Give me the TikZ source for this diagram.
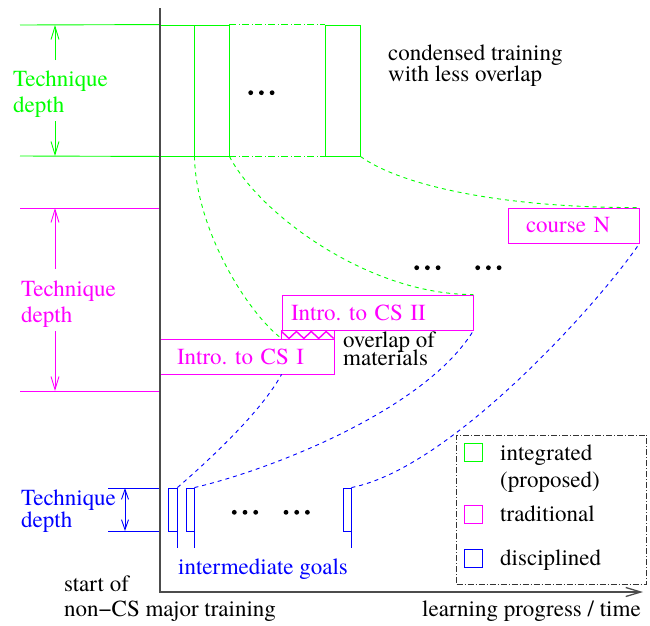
\documentclass[tikz,border=0pt]{standalone}
\usepackage{fontspec}
\setmainfont{TeX Gyre Termes}
\usetikzlibrary{arrows.meta}
\definecolor{figgreen}{RGB}{0,255,0}
\definecolor{figmag}{RGB}{255,0,255}
\definecolor{figblue}{RGB}{0,0,255}
\tikzset{
  thinline/.style={line width=0.9pt},
  gline/.style={thinline, draw=figgreen},
  mline/.style={thinline, draw=figmag},
  bline/.style={thinline, draw=figblue},
  dashfour/.style={dash pattern=on 4pt off 4pt},
  dashdotline/.style={dash pattern=on 7pt off 2.5pt on 1pt off 2.5pt},
  lbl/.style={font=\fontsize{23}{26}\selectfont, inner sep=0pt, anchor=base west},
  gbox/.style={gline, minimum height=131pt, inner sep=0pt},
  sbox/.style={bline, minimum height=43pt, inner sep=0pt},
  course/.style={mline, text=figmag, font=\fontsize{23}{26}\selectfont,
    minimum height=35pt, inner ysep=0pt, align=left},
  dimtip/.style={-{Straight Barb[length=13pt,width=8pt]}},
  axis/.style={draw=black!70, line width=1.3pt},
  legsq/.style={thinline, minimum size=18pt, inner sep=0pt},
  threedots/.pic={\foreach \i in {0,1,2} \fill (\i*10.7,0) circle (2.4pt);}
}
\begin{document}
\begin{tikzpicture}[x=1pt,y=-1pt]
\useasboundingbox (0,0) rectangle (650,625);

% ---------- integrated (green) ----------
\node[gbox, minimum width=34pt] (g1) at (177,90.5) {};
\node[gbox, minimum width=35pt] (g2) at (211.5,90.5) {};
\node[gbox, minimum width=35pt] (gN) at (342.5,90.5) {};
\coordinate (gt) at (20,25);
\coordinate (gb) at (20,156);
\draw[gline] (gt) -- (g1.north west);
\draw[gline] (gb) -- (g1.south west);
\draw[gline, dashdotline] (g2.north east) -- (gN.north west);
\draw[gline, dashdotline] (g2.south east) -- (gN.south west);
\coordinate (ga1) at (55,60);
\coordinate (ga2) at (55,121);
\draw[gline, dimtip] (ga1) -- (ga1 |- gt);
\draw[gline, dimtip] (ga2) -- (ga2 |- gb);
\node[lbl, text=figgreen] (gtx1) at (13,86) {Technique};
\node[lbl, text=figgreen] (gtx2) at (13,112) {depth};
\pic at (250.7,92.7) {threedots};
\node[lbl] (cond1) at (388,60) {condensed training};
\node[lbl] (cond2) at (388,81) {with less overlap};

% ---------- traditional (magenta) ----------
\coordinate (mt) at (20,208);
\coordinate (mtr) at (160,208);
\coordinate (mb) at (20,391);
\coordinate (mbr) at (160,391);
\draw[mline] (mt) -- (mtr);
\draw[mline] (mb) -- (mbr);
\coordinate (ma1) at (55,269);
\coordinate (ma2) at (55,331);
\draw[mline, dimtip] (ma1) -- (ma1 |- mt);
\draw[mline, dimtip] (ma2) -- (ma2 |- mb);
\node[lbl, text=figmag] (mtx1) at (21,296) {Technique};
\node[lbl, text=figmag] (mtx2) at (21,322) {depth};

\node[course, text width=140pt, inner xsep=17pt] (c1) at (247,356.5) {Intro.\ to CS I};
\node[course, text width=173pt, inner xsep=9pt] (c2) at (377.5,312.5) {Intro.\ to CS II};
\node[course, text width=95pt, inner xsep=18pt] (cN) at (573.5,225.5) {course N};

% overlap of the two introductory courses
\draw[mline] (c2.south west) -- (c2.south west |- c1.north);
\draw[mline] (c1.north east) -- (c1.north east |- c2.south);
\draw[mline, line width=1.4pt, line join=miter] (c2.south west) ++(0,1)
  -- ++(7.43,7) -- ++(7.43,-7) -- ++(7.43,7) -- ++(7.43,-7)
  -- ++(7.43,7) -- ++(7.43,-7) -- ++(7.43,7);
\node[lbl, text depth=0pt] (ovl1) at (343,347) {overlap of};
\node[lbl] (ovl2) at (343,365) {materials};
\pic at (416.7,267.7) {threedots};
\pic at (477.7,267.7) {threedots};

% green projections onto the traditional courses
\coordinate (z1) at (c2.south west |- c1.north);
\draw[gline, dashfour] (g1.south east) .. controls (196,230) and (247,312) .. (z1);
\draw[gline, dashfour] (g2.south east) .. controls (260,215) and (370,295) .. (c2.north east);
\draw[gline, dashfour] (gN.south east) .. controls (400,185) and (500,208) .. (cN.north east);

% ---------- disciplined (blue) ----------
\coordinate (bt) at (108,488);
\coordinate (btr) at (160,488);
\coordinate (bb) at (108,531);
\coordinate (bbr) at (160,531);
\draw[bline] (bt) -- (btr);
\draw[bline] (bb) -- (bbr);
\coordinate (ba) at (125,488);
\draw[bline, {Straight Barb[length=10pt,width=7pt]}-{Straight Barb[length=10pt,width=7pt]}] (ba) -- (ba |- bb);
\node[lbl, text=figblue] (btx1) at (21,505) {Technique};
\node[lbl, text=figblue] (btx2) at (21,527) {depth};

\node[sbox, minimum width=9pt] (s1) at (172.5,509.5) {};
\node[sbox, minimum width=8pt] (s2) at (190,509.5) {};
\node[sbox, minimum width=8pt] (s3) at (347,509.5) {};
\coordinate (gy) at (0,548);
\draw[bline] (s1.south east) -- (s1.south east |- gy);
\draw[bline] (s2.south east) -- (s2.south east |- gy);
\draw[bline] (s3.south east) -- (s3.south east |- gy);
\pic at (234.3,512.3) {threedots};
\pic at (286,512.3) {threedots};
\node[lbl, text=figblue] (igoal) at (178,574) {intermediate goals};

\coordinate (z2) at (c2.south west |- c1.south);
\draw[bline, dashfour] (s1.north east) .. controls (215,455) and (262,410) .. (z2);
\draw[bline, dashfour] (s2.north east) .. controls (270,470) and (425,410) .. (c2.south east);
\draw[bline, dashfour] (s3.north east) .. controls (451,468) and (599,303) .. (cN.south east);

% ---------- legend ----------
\node[thinline, draw=black!80, dash pattern=on 6pt off 2pt on 1pt off 2pt,
  minimum width=190pt, minimum height=149pt, inner sep=0pt] (leg) at (551.5,509.5) {};
\node[legsq, draw=figgreen] (lg) at (473.5,452.5) {};
\node[legsq, draw=figmag] (lm) at (473.5,514) {};
\node[legsq, draw=figblue] (lb) at (473.5,558) {};
\node[lbl] (lgt1) at (500,460) {integrated};
\node[lbl] (lgt2) at (500,487) {(proposed)};
\node[lbl] (lmt) at (500,521) {traditional};
\node[lbl] (lbt) at (500,565) {disciplined};

% ---------- axes ----------
\coordinate (ytop) at (160,8);
\coordinate (orig) at (160,592);
\coordinate (xend) at (643,592);
\draw[axis, -{Straight Barb[length=15pt,width=9pt]}] (ytop) -- (orig) -- (xend);
\node[lbl] (st1) at (64,591) {start of};
\node[lbl] (st2) at (64,616) {non−CS major training};
\node[lbl] (xl) at (422,616) {learning progress / time};
\end{tikzpicture}
\end{document}
